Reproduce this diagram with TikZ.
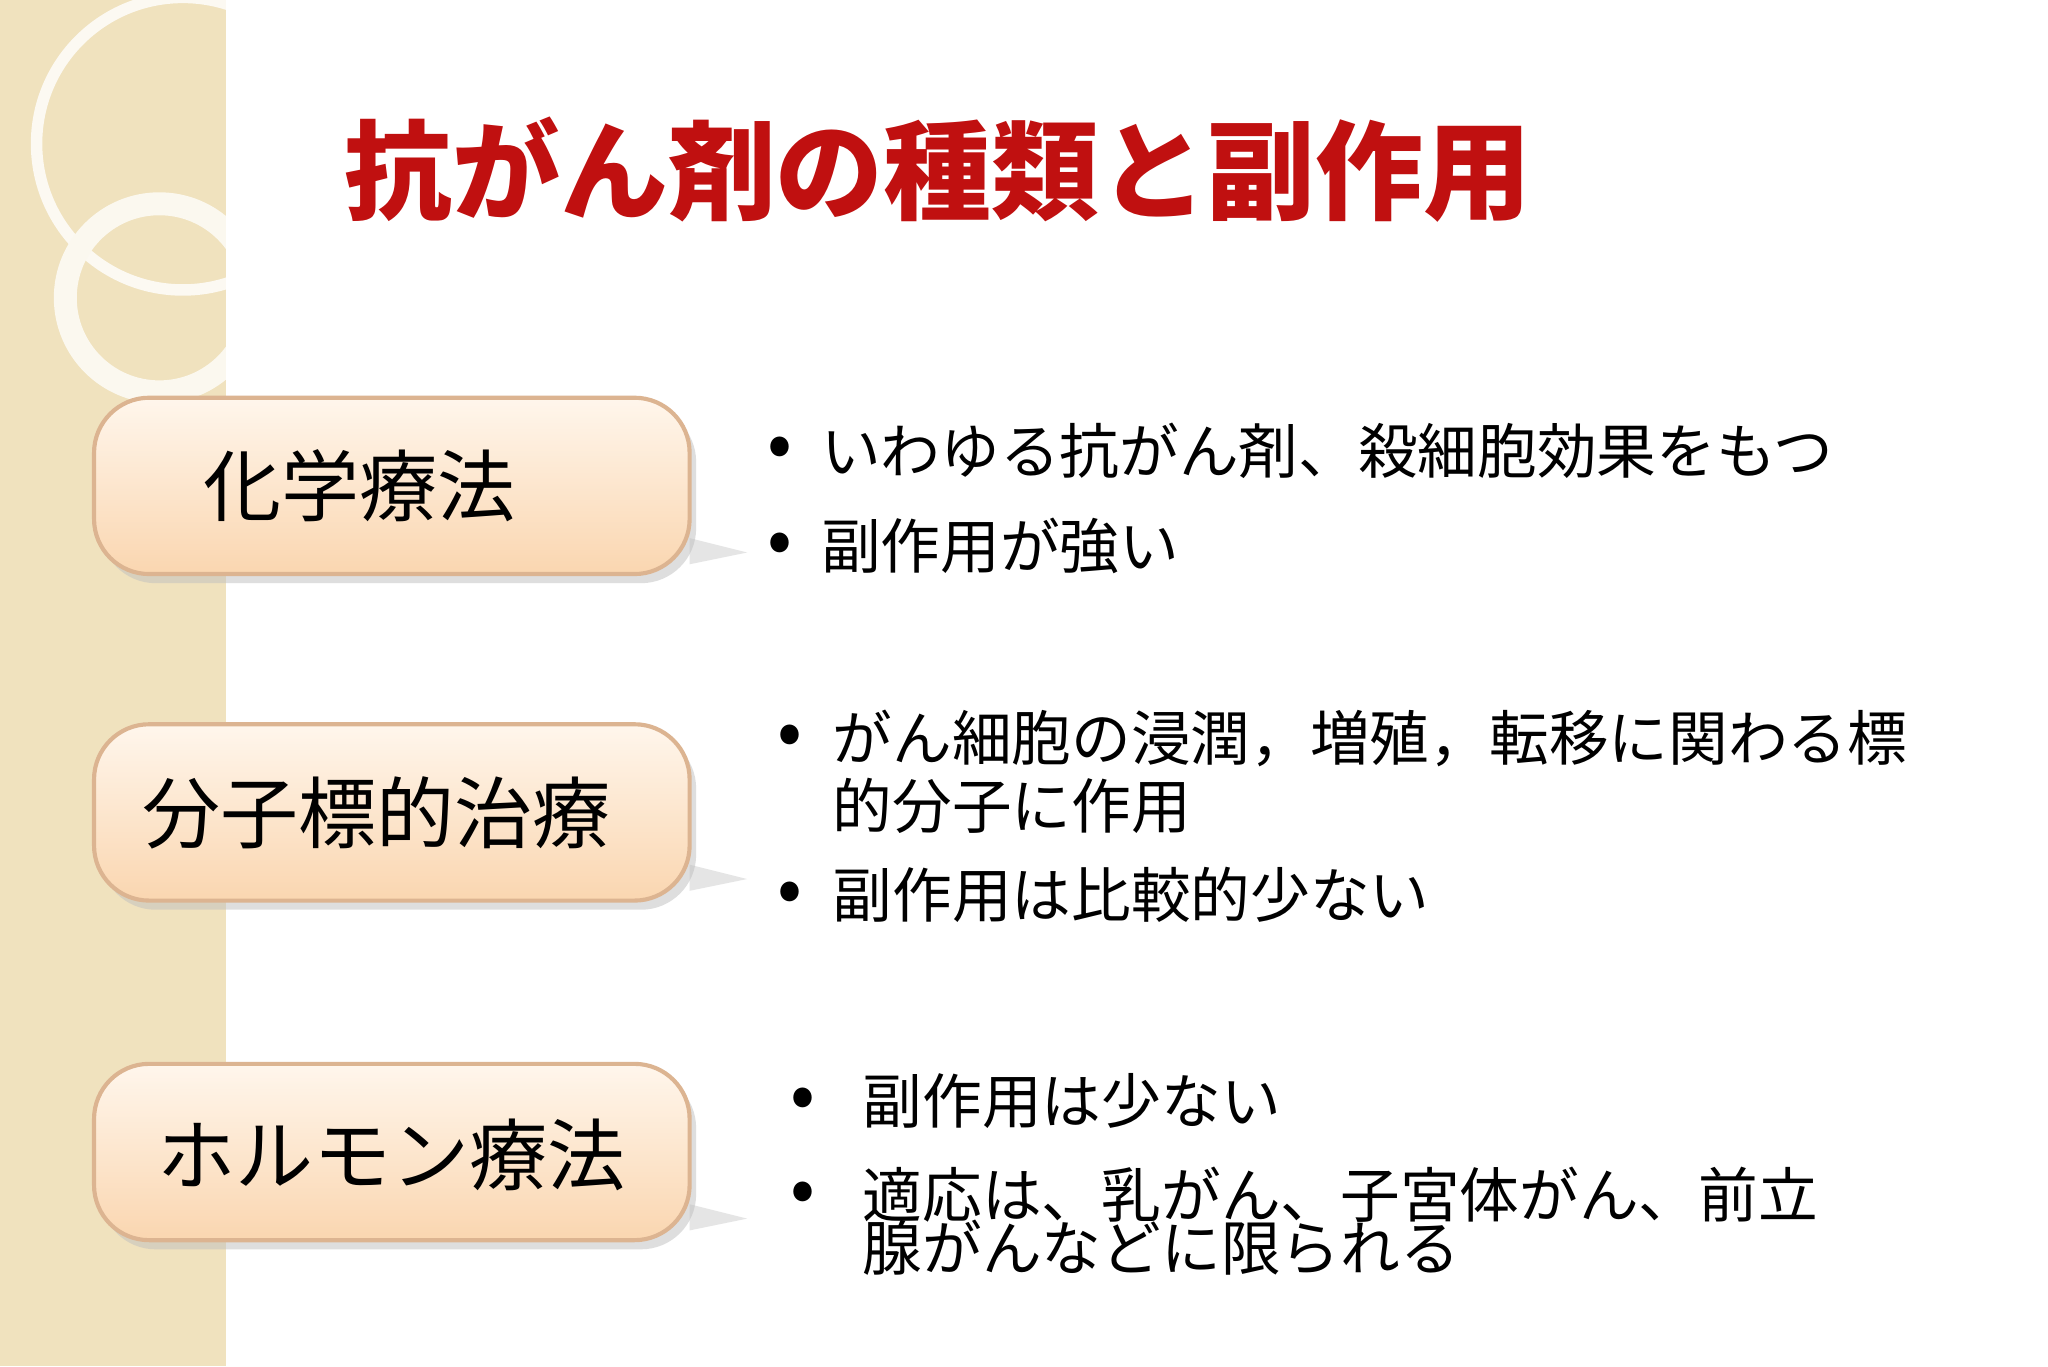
\documentclass[tikz,border=0pt]{standalone}
\usepackage{fontspec}
\setmainfont{Noto Sans CJK JP}
\usetikzlibrary{shadows}
\definecolor{strip}{RGB}{240,226,190}
\definecolor{peachtop}{RGB}{255,246,236}
\definecolor{peachbot}{RGB}{250,214,176}
\definecolor{boxline}{RGB}{220,180,145}
\definecolor{titlered}{RGB}{192,16,16}
\tikzset{
  catbox/.style={draw=boxline,line width=0.9pt,rounded corners=12pt,top color=peachtop,bottom color=peachbot,
    minimum width=45.6mm,minimum height=13.5mm,inner sep=0pt,
    drop shadow={shadow xshift=0.5mm,shadow yshift=-0.7mm,fill=black!25}},
  cattext/.style={font=\fontsize{17pt}{20pt}\selectfont,anchor=center},
  btext/.style={font=\fontsize{13pt}{14pt}\selectfont,anchor=west,inner sep=0pt},
  bul/.style={font=\fontsize{16pt}{16pt}\selectfont,anchor=center,inner sep=0pt}
}
\begin{document}
\begin{tikzpicture}[x=0.1mm,y=-0.1mm]
\useasboundingbox (0,0) rectangle (1568,1046);
\fill[white] (0,0) rectangle (1568,1046);
\fill[strip] (0,0) rectangle (173,1046);
\begin{scope}
\clip (0,0) rectangle (173,1046);
\draw[white!80!strip,line width=2.5pt] (140,110) circle (112);
\draw[white!75!strip,line width=5pt] (122,228) circle (72);
\end{scope}
\node[font=\fontsize{23.5pt}{26pt}\selectfont\bfseries,text=titlered,anchor=west,inner sep=0pt] (title) at (263,130) {抗がん剤の種類と副作用};
\foreach \y in {420,670,930}{\fill[black!10] (528,\y-8) -- (572,\y+3) -- (528,\y+12) -- cycle;}
\node[catbox] (b1) at (300,372) {};
\node[catbox] (b2) at (300,622) {};
\node[catbox] (b3) at (300,882) {};
\node[cattext] (t1) at (275,372) {化学療法};
\node[cattext] (t2) at (288,622) {分子標的治療};
\node[cattext] (t3) at (300,884) {ホルモン療法};
\node[bul] (p1) at (597,347) {•};
\node[btext] (l1) at (628,345) {いわゆる抗がん剤、殺細胞効果をもつ};
\node[bul] (p2) at (597,420) {•};
\node[btext] (l2) at (628,418) {副作用が強い};
\node[bul] (p3) at (605,567) {•};
\node[btext] (l3) at (637,565) {がん細胞の浸潤，増殖，転移に関わる標};
\node[btext] (l4) at (637,617) {的分子に作用};
\node[bul] (p4) at (605,687) {•};
\node[btext] (l5) at (637,685) {副作用は比較的少ない};
\node[bul] (p5) at (615,845) {•};
\node[btext] (l6) at (660,843) {副作用は少ない};
\node[bul] (p6) at (615,917) {•};
\node[btext] (l7) at (660,915) {適応は、乳がん、子宮体がん、前立};
\node[btext] (l8) at (660,955) {腺がんなどに限られる};
\end{tikzpicture}
\end{document}
